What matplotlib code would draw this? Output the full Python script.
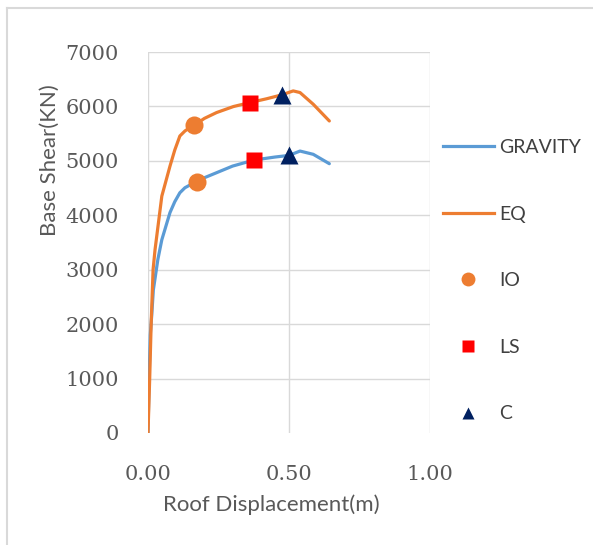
import matplotlib
matplotlib.use("Agg")
import matplotlib.pyplot as plt
from matplotlib.lines import Line2D

# pushover curves
gravity_x = [0, 0.004, 0.008, 0.013, 0.019, 0.035, 0.049, 0.078, 0.095, 0.113, 0.131, 0.15,
             0.173, 0.2, 0.243, 0.30, 0.376, 0.45, 0.50, 0.539, 0.586, 0.643]
gravity_y = [0, 1000, 1800, 2150, 2630, 3190, 3550, 4050, 4250, 4414, 4506, 4560,
             4610, 4690, 4782, 4904, 5015, 5070, 5100, 5180, 5120, 4948]

eq_x = [0, 0.006, 0.011, 0.018, 0.025, 0.049, 0.078, 0.095, 0.113, 0.131, 0.145, 0.164,
        0.2, 0.243, 0.303, 0.362, 0.42, 0.474, 0.515, 0.539, 0.586, 0.643]
eq_y = [0, 1000, 1970, 3000, 3370, 4352, 4904, 5200, 5457, 5549, 5600, 5654,
        5780, 5887, 5998, 6072, 6140, 6212, 6285, 6255, 6040, 5733]

# performance points (gravity, eq)
io_x = [0.173, 0.164]
io_y = [4610, 5654]
ls_x = [0.376, 0.362]
ls_y = [5015, 6072]
c_x = [0.50, 0.474]
c_y = [5100, 6212]

x_ticks = [0.0, 0.5, 1.0]
x_ticklabels = ["0.00", "0.50", "1.00"]
y_ticks = [0, 1000, 2000, 3000, 4000, 5000, 6000, 7000]

blue = "#5B9BD5"
orange = "#ED7D31"
red = "#FF0000"
navy = "#002060"
grid_col = "#D9D9D9"
txt_col = "#595959"

fig = plt.figure(figsize=(5.93, 5.45), dpi=100)
ax = fig.add_axes([148 / 593, 1 - 433 / 545, 282 / 593, 381 / 545])

ax.plot(gravity_x, gravity_y, color=blue, lw=2.3, zorder=3, solid_capstyle="round",
        solid_joinstyle="round")
ax.plot(eq_x, eq_y, color=orange, lw=2.3, zorder=3, solid_capstyle="round",
        solid_joinstyle="round")
ax.plot(io_x, io_y, "o", color=orange, ms=13, zorder=4, mec="none")
ax.plot(ls_x, ls_y, "s", color=red, ms=12, zorder=4, mec="none")
ax.plot(c_x, c_y, "^", color=navy, ms=13, zorder=4, mec="none")

ax.set_xlim(0, 1)
ax.set_ylim(0, 7000)
ax.set_xticks(x_ticks)
ax.set_xticklabels(x_ticklabels)
ax.set_yticks(y_ticks)
for s in ax.spines.values():
    s.set_visible(False)
ax.tick_params(length=0, colors=txt_col, labelsize=15)
ax.tick_params(axis="x", pad=23)
ax.tick_params(axis="y", pad=21)
for lab in ax.get_xticklabels() + ax.get_yticklabels():
    lab.set_family("DejaVu Serif")
    lab.set_color(txt_col)

for v in y_ticks[1:]:
    ax.axhline(v, color=grid_col, lw=1, zorder=1)
for v in x_ticks:
    ax.axvline(v, color=grid_col, lw=1, zorder=1)

fig.text(50 / 593, 1 - 160 / 545, "Base Shear(KN)", rotation=90, ha="center", va="center",
         color=txt_col, fontsize=16, family="Lato")
fig.text(271 / 593, 1 - 505 / 545, "Roof Displacement(m)", ha="center", va="center",
         color=txt_col, fontsize=16, family="Lato")

handles = [
    Line2D([], [], color=blue, lw=2.3),
    Line2D([], [], color=orange, lw=2.3),
    Line2D([], [], ls="none", marker="o", color=orange, ms=10, mec="none"),
    Line2D([], [], ls="none", marker="s", color=red, ms=9, mec="none"),
    Line2D([], [], ls="none", marker="^", color=navy, ms=9, mec="none"),
]
labels = ["GRAVITY", "EQ", "IO", "LS", "C"]
leg = fig.legend(handles, labels, loc="upper left", bbox_to_anchor=(443 / 593, 1 - 139 / 545),
                 frameon=False, borderpad=0, borderaxespad=0, handlelength=2.6,
                 handletextpad=0.3, labelspacing=2.55, prop={"family": "Lato", "size": 14})
for t in leg.get_texts():
    t.set_color("#404040")

# outer chart frame (left and top edges visible)
fig.add_artist(Line2D([7 / 593, 7 / 593], [0, 1 - 8 / 545], transform=fig.transFigure,
                      color="#D9D9D9", lw=1.5))
fig.add_artist(Line2D([7 / 593, 1], [1 - 8 / 545, 1 - 8 / 545], transform=fig.transFigure,
                      color="#D9D9D9", lw=1.5))

fig.savefig("out.png", dpi=100)
